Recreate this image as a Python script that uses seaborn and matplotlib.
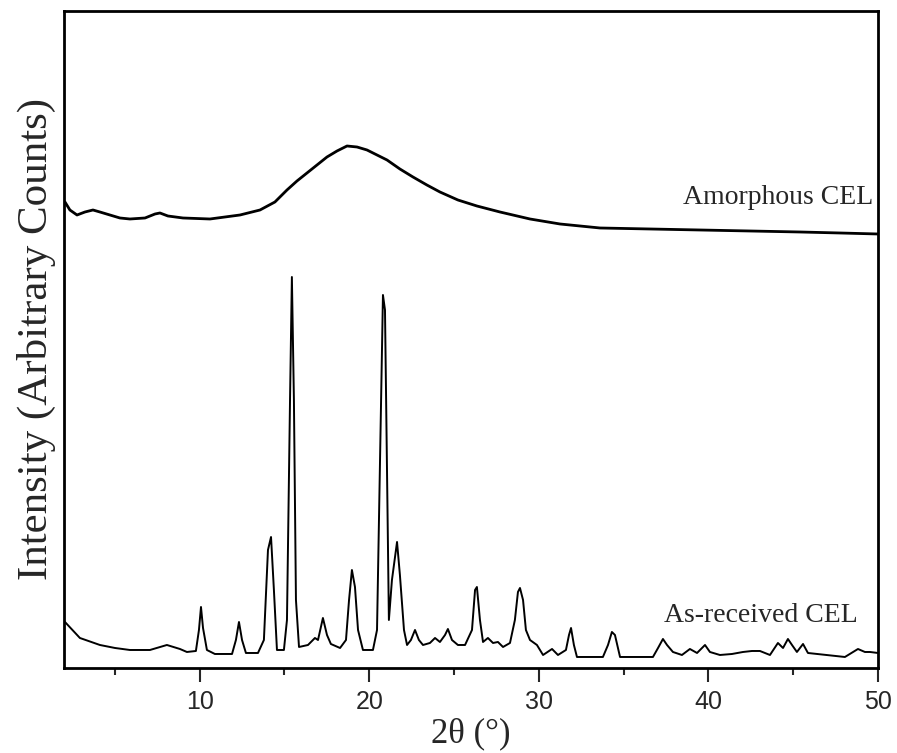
import matplotlib
matplotlib.use("Agg")
import matplotlib.pyplot as plt
from matplotlib.ticker import MultipleLocator
import seaborn as sns
import pandas as pd

# ---- data ----
cryst_2theta = [2.06, 2.94, 4.12, 5.01, 5.89, 7.07, 8.07, 8.84, 9.25, 9.78, 9.96, 10.08, 10.20, 10.43,
                10.90, 11.91, 12.14, 12.32, 12.50, 12.73, 13.44, 13.79, 14.03, 14.21, 14.38, 14.56,
                14.97, 15.15, 15.33, 15.44, 15.56, 15.68, 15.86, 16.39, 16.80, 16.98, 17.27, 17.51,
                17.74, 18.28, 18.63, 18.81, 18.98, 19.16, 19.34, 19.63, 20.22, 20.46, 20.63, 20.81,
                20.93, 21.05, 21.16, 21.34, 21.64, 21.81, 22.05, 22.23, 22.46, 22.70, 22.93, 23.17,
                23.58, 23.88, 24.17, 24.47, 24.64, 24.88, 25.23, 25.65, 26.06, 26.24, 26.35, 26.53,
                26.71, 27.00, 27.30, 27.59, 27.89, 28.30, 28.59, 28.77, 28.89, 29.07, 29.24, 29.48,
                29.89, 30.25, 30.78, 31.13, 31.60, 31.78, 31.90, 32.07, 32.25, 33.78, 34.08, 34.31,
                34.49, 34.79, 36.73, 37.03, 37.32, 37.56, 37.91, 38.44, 38.91, 39.33, 39.80, 40.09,
                40.68, 41.39, 42.04, 42.57, 43.04, 43.63, 44.10, 44.40, 44.69, 44.93, 45.22, 45.58,
                45.87, 46.99, 48.05, 48.82, 49.23, 49.53, 50.00]
cryst_counts = [46, 30, 23, 20, 18, 18, 23, 19, 16, 17, 38, 61, 40, 18,
                14, 14, 28, 46, 28, 15, 15, 28, 118, 131, 78, 18,
                18, 48, 268, 391, 268, 68, 21, 23, 30, 28, 50, 33,
                24, 20, 28, 68, 98, 81, 38, 18, 18, 38, 198, 373,
                358, 198, 48, 88, 126, 93, 38, 23, 28, 38, 28, 23,
                25, 30, 26, 33, 39, 28, 23, 23, 38, 78, 81, 48,
                26, 30, 25, 26, 21, 25, 48, 76, 80, 68, 38, 28,
                23, 13, 19, 13, 18, 33, 40, 23, 11, 11, 23, 36,
                33, 11, 11, 20, 29, 23, 16, 13, 19, 15, 23, 16,
                13, 14, 16, 17, 17, 13, 25, 20, 29, 23, 16, 24,
                15, 13, 11, 19, 16, 16, 15]

amor_2theta = [2.06, 2.35, 2.77, 3.24, 3.71, 4.12, 4.71, 5.30, 5.89, 6.78, 7.37, 7.66, 8.13, 9.02,
               10.61, 12.38, 13.56, 14.44, 15.15, 15.74, 16.33, 16.92, 17.51, 18.10, 18.69, 19.28,
               19.87, 20.46, 21.05, 21.81, 22.58, 23.40, 24.17, 25.23, 26.35, 27.71, 29.48, 31.25,
               33.61, 36.56, 39.50, 42.45, 45.40, 47.76, 50.00]
amor_counts = [466, 458, 453, 456, 458, 456, 453, 450, 449, 450, 454, 455, 452, 450,
               449, 453, 458, 466, 478, 487, 495, 503, 511, 517, 522, 521,
               518, 513, 508, 499, 491, 483, 476, 468, 462, 456, 449, 444,
               440, 439, 438, 437, 436, 435, 434]

series_labels = ["Amorphous CEL", "As-received CEL"]
x_ticks = [10, 20, 30, 40, 50]
x_label = "2θ (°)"
y_label = "Intensity (Arbitrary Counts)"

# ---- plot ----
sns.set_style("white")
serif = ["Liberation Serif", "DejaVu Serif"]
sans = ["Liberation Sans", "DejaVu Sans"]

fig = plt.figure(figsize=(8.97, 7.53), dpi=100)
ax = fig.add_axes([0.0713, 0.1129, 0.9075, 0.8725])

df_c = pd.DataFrame({"two_theta": cryst_2theta, "counts": cryst_counts})
df_a = pd.DataFrame({"two_theta": amor_2theta, "counts": amor_counts})
sns.lineplot(data=df_c, x="two_theta", y="counts", ax=ax, color="black", lw=1.4, estimator=None)
sns.lineplot(data=df_a, x="two_theta", y="counts", ax=ax, color="black", lw=2.0, estimator=None)

ax.set_xlim(2, 50)
ax.set_ylim(0, 657)
ax.set_xticks(x_ticks)
ax.xaxis.set_minor_locator(MultipleLocator(5))
ax.set_yticks([])
ax.tick_params(axis="x", which="major", direction="out", length=10, width=1.5,
               bottom=True, top=False, labelsize=18, pad=6)
ax.tick_params(axis="x", which="minor", direction="out", length=5, width=1.5,
               bottom=True, top=False)
for lab in ax.get_xticklabels():
    lab.set_fontfamily(sans)
for sp in ax.spines.values():
    sp.set_visible(True)
    sp.set_linewidth(2)
    sp.set_color("black")

ax.set_xlabel(x_label, fontsize=25, family=serif, labelpad=2)
ax.set_ylabel(y_label, fontsize=31, family=serif, labelpad=6)

ax.text(49.7, 470, series_labels[0], ha="right", va="center", fontsize=20, family=serif)
ax.text(48.8, 52, series_labels[1], ha="right", va="center", fontsize=20, family=serif)

fig.savefig("out.png", dpi=100)
